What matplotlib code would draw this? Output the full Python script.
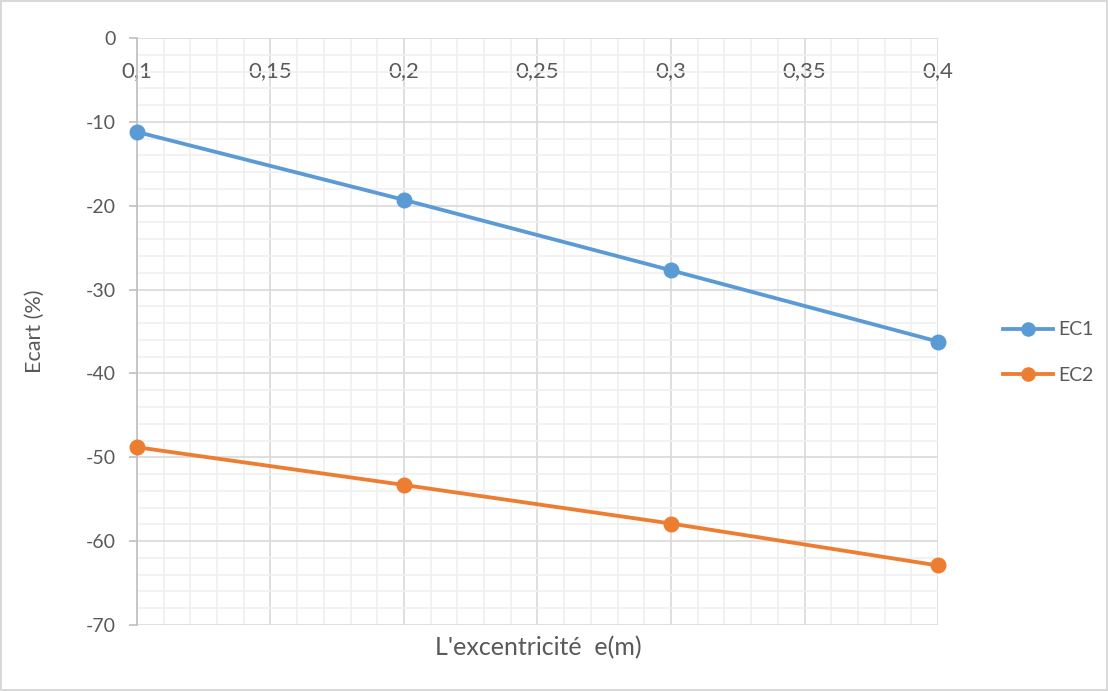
import matplotlib
matplotlib.use("Agg")
import matplotlib.pyplot as plt
from matplotlib.ticker import MultipleLocator, FixedLocator

plt.rcParams['font.family'] = ['Lato', 'DejaVu Sans']

# data
e_vals = [0.1, 0.2, 0.3, 0.4]
ec1 = [-11.2, -19.3, -27.7, -36.2]
ec2 = [-48.8, -53.3, -57.9, -62.9]
series_names = ["EC1", "EC2"]
x_ticks = [0.1, 0.15, 0.2, 0.25, 0.3, 0.35, 0.4]
x_tick_labels = ["0,1", "0,15", "0,2", "0,25", "0,3", "0,35", "0,4"]
y_ticks = [0, -10, -20, -30, -40, -50, -60, -70]
y_tick_labels = ["0", "-10", "-20", "-30", "-40", "-50", "-60", "-70"]

TXT = "#595959"
BLUE = "#5B9BD5"
ORANGE = "#ED7D31"

fig = plt.figure(figsize=(11.08, 6.91), dpi=100)
fig.patch.set_edgecolor("#d9d9d9")
fig.patch.set_linewidth(1.5)
ax = fig.add_axes([0.1236, 0.0955, 0.8466 - 0.1236, 0.945 - 0.0955])

ax.set_xlim(0.1, 0.4)
ax.set_ylim(-70, 0)

ax.xaxis.set_major_locator(FixedLocator(x_ticks))
ax.xaxis.set_minor_locator(MultipleLocator(0.01))
ax.yaxis.set_major_locator(FixedLocator(y_ticks))
ax.yaxis.set_minor_locator(MultipleLocator(2))

ax.grid(which="minor", color="#f0f0f0", linewidth=1.2, zorder=0)
ax.grid(which="major", color="#d9d9d9", linewidth=1.2, zorder=0)
ax.set_axisbelow(True)

for s in ["top", "right", "bottom"]:
    ax.spines[s].set_visible(False)
ax.spines["left"].set_color("#bfbfbf")
ax.spines["left"].set_linewidth(1.2)

# x labels sit under the zero line (axis crosses at y=0)
ax.xaxis.set_ticks_position("top")
ax.set_xticklabels(x_tick_labels)
ax.tick_params(axis="x", which="both", length=0, labeltop=True, labelbottom=False,
               pad=-31, labelsize=16, labelcolor=TXT)
ax.set_yticklabels(y_tick_labels)
ax.tick_params(axis="y", which="major", length=6, color="#bfbfbf", width=1.2,
               labelsize=14, labelcolor=TXT, pad=9)
ax.tick_params(axis="y", which="minor", length=0)

ax.plot(e_vals, ec1, color=BLUE, lw=2.75, marker="o", ms=10.5, label=series_names[0],
        zorder=3, clip_on=False)
ax.plot(e_vals, ec2, color=ORANGE, lw=2.75, marker="o", ms=10.5, label=series_names[1],
        zorder=3, clip_on=False)

fig.text(35 / 1108, 1 - 331 / 691, "Ecart (%)", rotation=90, ha="center", va="center",
         fontsize=15.5, color=TXT)
fig.text(538 / 1108, 1 - 648 / 691, "L'excentricité  e(m)", ha="center", va="center",
         fontsize=18, color=TXT)

leg = fig.legend(loc="center left", bbox_to_anchor=(0.889, 0.49), frameon=False,
                 fontsize=14, labelcolor=TXT, handlelength=2.6, labelspacing=1.45,
                 handletextpad=0.25, markerscale=0.9)

fig.savefig("out.png", dpi=100, edgecolor=fig.get_edgecolor())
